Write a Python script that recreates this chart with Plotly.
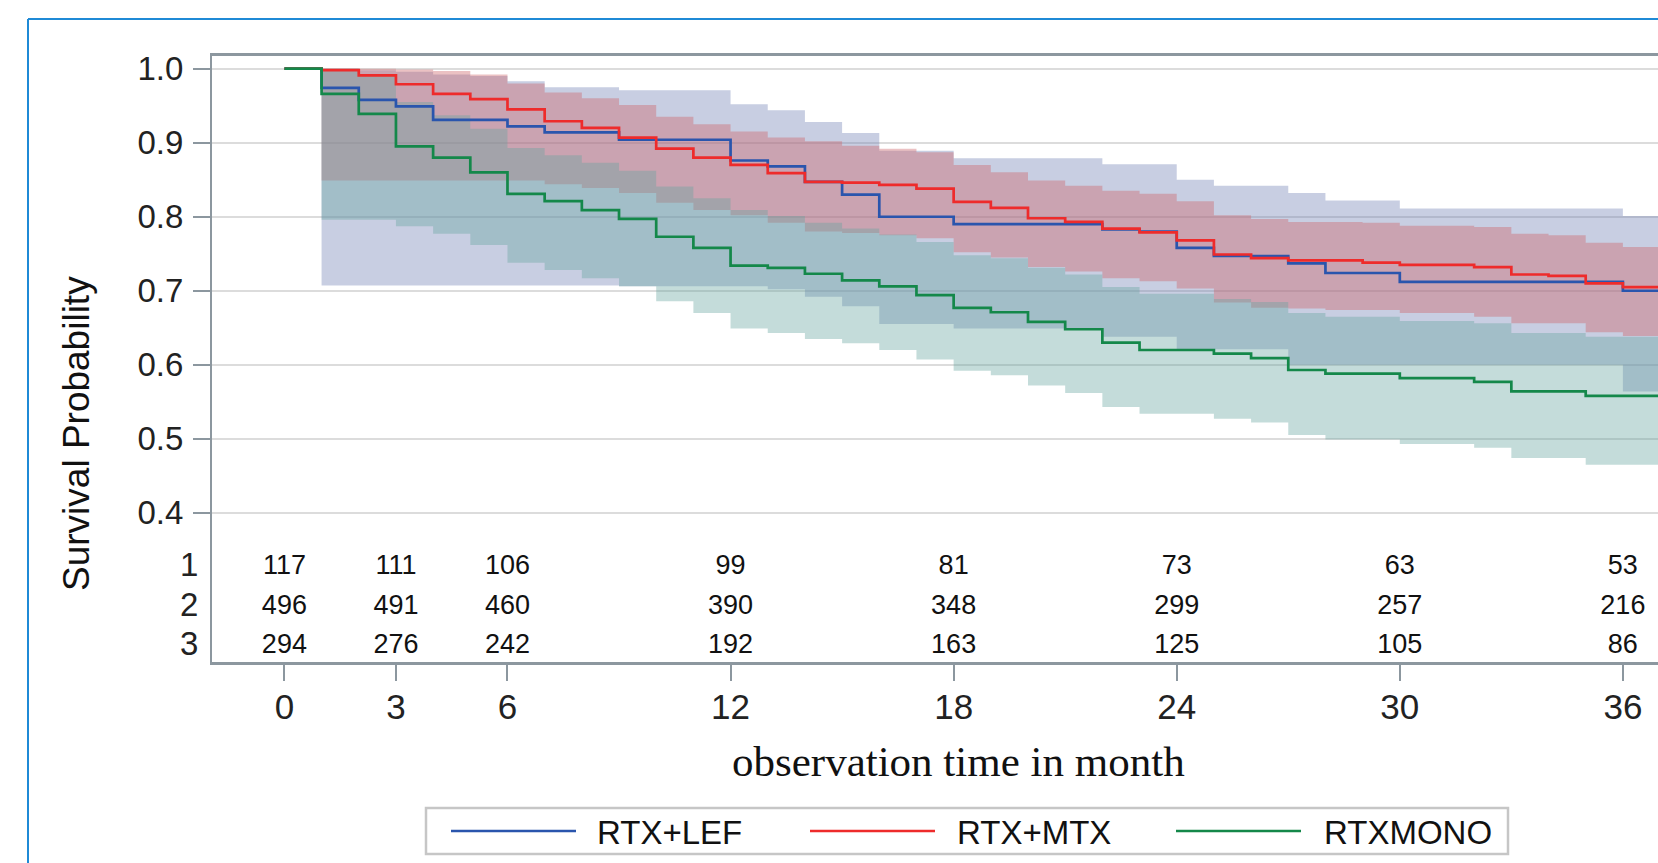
import plotly.graph_objects as go

# ---------------- data ----------------
months = list(range(0, 37))
surv_lef = [1.0, 0.974, 0.958, 0.949, 0.931, 0.931, 0.922, 0.914, 0.914, 0.904,
            0.904, 0.904, 0.876, 0.868, 0.847, 0.830, 0.800, 0.800, 0.790, 0.790,
            0.790, 0.790, 0.783, 0.780, 0.758, 0.747, 0.747, 0.737, 0.724, 0.724,
            0.712, 0.712, 0.712, 0.712, 0.712, 0.712, 0.700]
surv_mtx = [1.0, 0.998, 0.991, 0.979, 0.966, 0.959, 0.945, 0.929, 0.920, 0.907,
            0.892, 0.880, 0.870, 0.859, 0.847, 0.846, 0.843, 0.838, 0.820, 0.812,
            0.798, 0.793, 0.784, 0.779, 0.768, 0.749, 0.744, 0.741, 0.741, 0.738,
            0.735, 0.735, 0.732, 0.722, 0.720, 0.710, 0.705]
surv_mono = [1.0, 0.966, 0.939, 0.895, 0.880, 0.860, 0.831, 0.821, 0.809, 0.797,
             0.773, 0.758, 0.734, 0.731, 0.723, 0.714, 0.706, 0.694, 0.677, 0.671,
             0.658, 0.648, 0.630, 0.620, 0.620, 0.615, 0.609, 0.593, 0.588, 0.588,
             0.582, 0.582, 0.577, 0.564, 0.564, 0.558, 0.558]

band_months = list(range(1, 37))
lef_upper = [1.0, 0.998, 0.996, 0.992, 0.990, 0.983, 0.975, 0.975, 0.971, 0.971,
             0.971, 0.952, 0.944, 0.928, 0.913, 0.889, 0.889, 0.879, 0.879, 0.879,
             0.879, 0.871, 0.871, 0.850, 0.842, 0.842, 0.832, 0.822, 0.822, 0.811,
             0.811, 0.811, 0.811, 0.811, 0.811, 0.801]
lef_lower = [0.707, 0.707, 0.707, 0.707, 0.707, 0.707, 0.707, 0.707, 0.706, 0.706,
             0.706, 0.706, 0.702, 0.692, 0.679, 0.655, 0.655, 0.649, 0.649, 0.649,
             0.649, 0.638, 0.638, 0.621, 0.621, 0.621, 0.600, 0.600, 0.600, 0.600,
             0.600, 0.600, 0.600, 0.600, 0.600, 0.564]
mtx_upper = [1.0, 1.0, 0.999, 0.997, 0.992, 0.980, 0.968, 0.960, 0.951, 0.935,
             0.925, 0.915, 0.907, 0.902, 0.896, 0.892, 0.887, 0.870, 0.860, 0.849,
             0.842, 0.835, 0.831, 0.821, 0.802, 0.797, 0.793, 0.793, 0.792, 0.788,
             0.788, 0.786, 0.777, 0.775, 0.765, 0.759]
mtx_lower = [0.849, 0.849, 0.849, 0.849, 0.849, 0.849, 0.844, 0.839, 0.832, 0.819,
             0.809, 0.802, 0.792, 0.780, 0.778, 0.775, 0.771, 0.752, 0.745, 0.732,
             0.726, 0.717, 0.713, 0.703, 0.684, 0.677, 0.676, 0.674, 0.674, 0.670,
             0.670, 0.665, 0.656, 0.656, 0.644, 0.639]
mono_upper = [1.0, 0.990, 0.955, 0.937, 0.919, 0.893, 0.883, 0.873, 0.862, 0.841,
              0.825, 0.809, 0.801, 0.792, 0.784, 0.776, 0.766, 0.748, 0.744, 0.731,
              0.722, 0.705, 0.696, 0.696, 0.689, 0.685, 0.670, 0.665, 0.665, 0.659,
              0.659, 0.656, 0.643, 0.643, 0.638, 0.638]
mono_lower = [0.796, 0.796, 0.787, 0.777, 0.762, 0.738, 0.728, 0.717, 0.706, 0.686,
              0.670, 0.649, 0.643, 0.635, 0.629, 0.620, 0.607, 0.592, 0.586, 0.572,
              0.562, 0.543, 0.534, 0.534, 0.527, 0.522, 0.505, 0.499, 0.499, 0.493,
              0.493, 0.488, 0.474, 0.474, 0.465, 0.465]

risk_times = [0, 3, 6, 12, 18, 24, 30, 36]
risk_lef = [117, 111, 106, 99, 81, 73, 63, 53]
risk_mtx = [496, 491, 460, 390, 348, 299, 257, 216]
risk_mono = [294, 276, 242, 192, 163, 125, 105, 86]
risk_row_labels = ["1", "2", "3"]
risk_row_y = [0.3265, 0.2725, 0.2200]

group_names = ["RTX+LEF", "RTX+MTX", "RTXMONO"]
x_ticks = [0, 3, 6, 12, 18, 24, 30, 36]
y_ticks = [0.4, 0.5, 0.6, 0.7, 0.8, 0.9, 1.0]
x_title = "observation time in month"
y_title = "Survival Probability"

# ---------------- styles ----------------
line_colors = ["#2a55ad", "#ee2b2b", "#14884a"]
band_colors = ["rgba(111,126,179,0.38)", "rgba(205,100,105,0.40)", "rgba(102,165,160,0.39)"]
SANS = "Liberation Sans, Arial, sans-serif"
SERIF = "Liberation Serif, Times New Roman, serif"
AXIS_GRAY = "#8c979f"

W, H = 1658, 863
PL, PT, PR, PB = 212, 56, 0, 201
PW, PH = W - PL - PR, H - PT - PB
X_END = 37


def px(X):
    return (X - PL) / PW


def py(Y):
    return (PT + PH - Y) / PH


def ext(xs, ys):
    return list(xs) + [X_END], list(ys) + [ys[-1]]


fig = go.Figure()

bands = [(lef_lower, lef_upper), (mtx_lower, mtx_upper), (mono_lower, mono_upper)]
for (lo, up), col in zip(bands, band_colors):
    xl, yl = ext(band_months, lo)
    xu, yu = ext(band_months, up)
    fig.add_trace(go.Scatter(x=xl, y=yl, mode="lines", line=dict(width=0, shape="hv"),
                             showlegend=False, hoverinfo="skip"))
    fig.add_trace(go.Scatter(x=xu, y=yu, mode="lines", line=dict(width=0, shape="hv"),
                             fill="tonexty", fillcolor=col, showlegend=False, hoverinfo="skip"))

for name, ys, col in zip(group_names, [surv_lef, surv_mtx, surv_mono], line_colors):
    xs, yv = ext(months, ys)
    fig.add_trace(go.Scatter(x=xs, y=yv, mode="lines", name=name,
                             line=dict(color=col, width=2.7, shape="hv"), showlegend=False))

for row, yv in zip([risk_lef, risk_mtx, risk_mono], risk_row_y):
    fig.add_trace(go.Scatter(x=risk_times, y=[yv] * len(risk_times), mode="text",
                             text=[str(v) for v in row], textposition="middle center",
                             textfont=dict(family=SANS, size=27, color="#111"),
                             showlegend=False, hoverinfo="skip"))

annotations = []
for lab, yv in zip(risk_row_labels, risk_row_y):
    annotations.append(dict(x=px(200), y=yv, xref="paper", yref="y", text=lab,
                             showarrow=False, xanchor="right", yanchor="middle", yshift=3,
                             font=dict(family=SANS, size=33, color="#222")))
annotations.append(dict(x=px(76), y=py(434), xref="paper", yref="paper", text=y_title,
                        showarrow=False, textangle=-90, xanchor="center", yanchor="middle",
                        font=dict(family=SANS, size=37, color="#111")))
annotations.append(dict(x=px(958), y=py(761), xref="paper", yref="paper", text=x_title,
                        showarrow=False, xanchor="center", yanchor="middle",
                        font=dict(family=SERIF, size=43, color="#111")))

shapes = []
# outer blue frame
shapes.append(dict(type="line", xref="paper", yref="paper", x0=px(28), x1=px(W + 20),
                   y0=py(19), y1=py(19), line=dict(color="#1f8ad6", width=2)))
shapes.append(dict(type="line", xref="paper", yref="paper", x0=px(28), x1=px(28),
                   y0=py(19), y1=py(H + 20), line=dict(color="#1f8ad6", width=2)))
# legend box
shapes.append(dict(type="rect", xref="paper", yref="paper", x0=px(426), x1=px(1508),
                   y0=py(854), y1=py(808), line=dict(color="#c6c6c6", width=2.5),
                   fillcolor="rgba(0,0,0,0)"))
leg_line_x = [(451, 576), (810, 935), (1176, 1301)]
leg_text_x = [595, 955, 1322]
for (a, b), tx, name, col in zip(leg_line_x, leg_text_x, group_names, line_colors):
    shapes.append(dict(type="line", xref="paper", yref="paper", x0=px(a), x1=px(b),
                       y0=py(831), y1=py(831), line=dict(color=col, width=2.7)))
    annotations.append(dict(x=px(tx), y=py(832), xref="paper", yref="paper", text=name,
                            showarrow=False, xanchor="left", yanchor="middle",
                            font=dict(family=SANS, size=33, color="#111")))

fig.update_layout(
    width=W, height=H,
    margin=dict(l=PL, r=PR, t=PT, b=PB, pad=0),
    paper_bgcolor="white", plot_bgcolor="white",
    showlegend=False,
    annotations=annotations,
    shapes=shapes,
    xaxis=dict(range=[(PL - 284.4) / 37.18, (W - 284.4) / 37.18], tickvals=x_ticks,
               ticks="outside", ticklen=16, tickwidth=2, tickcolor=AXIS_GRAY,
               showgrid=False, zeroline=False, showline=True, linecolor=AXIS_GRAY,
               linewidth=2.5, mirror=True, ticklabelstandoff=-4,
               tickfont=dict(family=SANS, size=35, color="#222")),
    yaxis=dict(range=[0.1985, 1 + (68.7 - PT) / 740.2], tickvals=y_ticks,
               ticktext=[f"{v:.1f}" for v in y_ticks],
               ticks="outside", ticklen=17, tickwidth=2, tickcolor=AXIS_GRAY,
               showgrid=True, gridcolor="#dcdcdc", gridwidth=2, zeroline=False,
               showline=True, linecolor=AXIS_GRAY, linewidth=2,
               ticklabelstandoff=3,
               tickfont=dict(family=SANS, size=33, color="#222")),
)

fig.write_html("out.html", config={"displayModeBar": False},
               post_script="document.body.style.margin='0';")
